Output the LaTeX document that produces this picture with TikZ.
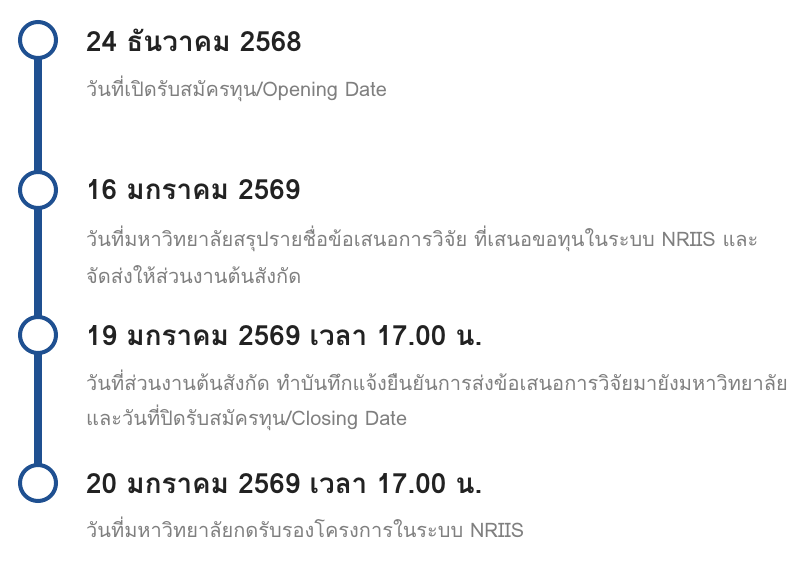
\documentclass[tikz,border=0pt]{standalone}
\usepackage{fontspec}
\newfontfamily\thaifont[Script=Thai]{Loma}
\definecolor{tlblue}{HTML}{1F5091}
\definecolor{tltitle}{HTML}{222222}
\definecolor{tlgray}{HTML}{7F7F7F}
\begin{document}
\begin{tikzpicture}[x=1pt,y=-1pt,
  dot/.style={circle,draw=tlblue,line width=4pt,fill=white,minimum size=36pt,inner sep=0pt},
  title/.style={anchor=base west,inner sep=0pt,text=tltitle,font=\thaifont\bfseries\fontsize{27.8}{32}\selectfont},
  desc/.style={anchor=base west,inner sep=0pt,text=tlgray,font=\thaifont\fontsize{20}{24}\selectfont},
  spine/.style={draw=tlblue,line width=8pt}]
\useasboundingbox (0,0) rectangle (799,561);
\coordinate (c1) at (38,40);
\coordinate (c2) at (38,190);
\coordinate (c3) at (38,335);
\coordinate (c4) at (38,483);
\draw[spine] (c1) -- (c4);
\node[dot] (d1) at (c1) {};
\node[dot] (d2) at (c2) {};
\node[dot] (d3) at (c3) {};
\node[dot] (d4) at (c4) {};
\node[title] (t1) at (86,52) {24 ธันวาคม 2568};
\node[desc] (s1) at (86,97) {วันที่เปิดรับสมัครทุน/Opening Date};
\node[title] (t2) at (86,200) {16 มกราคม 2569};
\node[desc] (s2a) at (86,246) {วันที่มหาวิทยาลัยสรุปรายชื่อข้อเสนอการวิจัย ที่เสนอขอทุนในระบบ NRIIS และ};
\node[desc] (s2b) at (86,283) {จัดส่งให้ส่วนงานต้นสังกัด};
\node[title] (t3) at (86,345) {19 มกราคม 2569 เวลา 17.00 น.};
\node[desc] (s3a) at (86,390) {วันที่ส่วนงานต้นสังกัด ทำบันทึกแจ้งยืนยันการส่งข้อเสนอการวิจัยมายังมหาวิทยาลัย};
\node[desc] (s3b) at (86,425) {และวันที่ปิดรับสมัครทุน/Closing Date};
\node[title] (t4) at (86,493) {20 มกราคม 2569 เวลา 17.00 น.};
\node[desc] (s4) at (86,537) {วันที่มหาวิทยาลัยกดรับรองโครงการในระบบ NRIIS};
\end{tikzpicture}
\end{document}
